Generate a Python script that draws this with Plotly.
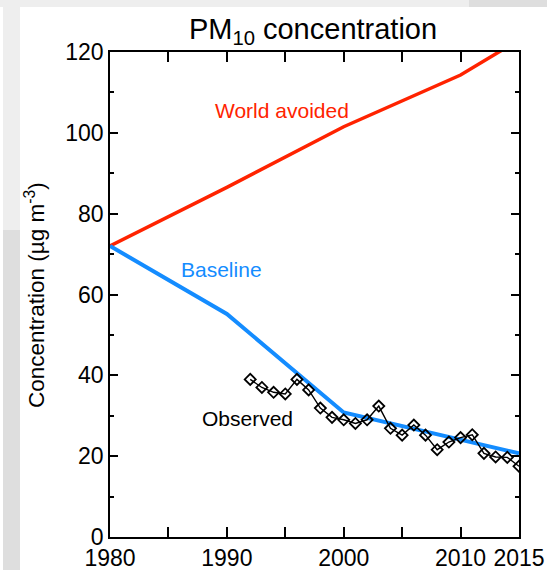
import plotly.graph_objects as go

# ---- data ----
model_years = [1980, 1990, 2000, 2010, 2015]
world_avoided = [72.0, 86.5, 101.5, 114.3, 123.0]
baseline_years = [1980, 1990, 2000, 2015]
baseline_vals = [72.0, 55.2, 30.8, 20.7]

obs_years = list(range(1992, 2016))
observed = [39.0, 37.0, 35.8, 35.4, 39.0, 36.4, 31.9, 29.6, 29.0, 28.1, 29.0, 32.4,
            26.9, 25.2, 27.7, 25.2, 21.6, 23.5, 24.6, 25.3, 20.7, 19.8, 19.7, 17.5]

x_tickvals = [1980, 1985, 1990, 1995, 2000, 2005, 2010, 2015]
x_ticktext = ["1980", "", "1990", "", "2000", "", "2010", "2015"]
y_tickvals = [0, 20, 40, 60, 80, 100, 120]
y_minorvals = [10, 30, 50, 70, 90, 110]

W, H = 547, 570
L, R, T, B = 110, 28, 52, 33
pw, ph = W - L - R, H - T - B

def px(x):
    return (x - L) / pw

def py(y):
    return (H - B - y) / ph

FONT = "Liberation Sans, Arial, Helvetica, sans-serif"

fig = go.Figure()
fig.add_trace(go.Scatter(x=model_years, y=world_avoided, mode="lines",
                         line=dict(color="rgb(255,35,0)", width=3.5), showlegend=False))
fig.add_trace(go.Scatter(x=baseline_years, y=baseline_vals, mode="lines",
                         line=dict(color="rgb(20,140,255)", width=4), showlegend=False))
fig.add_trace(go.Scatter(x=obs_years, y=observed, mode="lines+markers",
                         line=dict(color="black", width=1.4),
                         marker=dict(symbol="diamond-open", size=8.5, color="black",
                                     line=dict(width=1.8, color="black")),
                         showlegend=False))

annots = [
    dict(x=1994.7, y=105.5, text="World avoided", color="rgb(255,35,0)"),
    dict(x=1989.5, y=66.3, text="Baseline", color="rgb(20,140,255)"),
    dict(x=1991.8, y=29.2, text="Observed", color="black"),
]
for a in annots:
    fig.add_annotation(x=a["x"], y=a["y"], text=a["text"], showarrow=False,
                       xref="x", yref="y", xanchor="center", yanchor="middle",
                       font=dict(family=FONT, size=21, color=a["color"]))

# y-axis title as a rotated annotation
fig.add_annotation(x=px(35), y=py(295), xref="paper", yref="paper",
                   text="Concentration (µg m<sup>-3</sup>)", showarrow=False,
                   textangle=-90, xanchor="center", yanchor="middle",
                   font=dict(family=FONT, size=22.5, color="black"))

shapes = [
    # top strip
    dict(x0=px(0), x1=px(469), y0=py(0), y1=py(7), color="#eeeeee"),
    dict(x0=px(469), x1=px(547), y0=py(0), y1=py(7), color="#dedede"),
    # left strip
    dict(x0=px(3), x1=px(20), y0=py(7), y1=py(230), color="#eeeeee"),
    dict(x0=px(3), x1=px(20), y0=py(230), y1=py(570), color="#dedede"),
]
for s in shapes:
    fig.add_shape(type="rect", xref="paper", yref="paper", x0=s["x0"], x1=s["x1"],
                  y0=s["y0"], y1=s["y1"], fillcolor=s["color"], line=dict(width=0),
                  layer="below")

fig.update_layout(
    width=W, height=H,
    margin=dict(l=L, r=R, t=T, b=B, pad=0),
    paper_bgcolor="white", plot_bgcolor="white",
    font=dict(family=FONT, size=23, color="black"),
    title=dict(text="PM<sub>10</sub> concentration", x=313 / W, xanchor="center",
               y=1 - 29 / H, yanchor="middle", font=dict(family=FONT, size=29, color="black")),
    xaxis=dict(range=[1980, 2015], tickvals=x_tickvals, ticktext=x_ticktext,
               ticks="inside", ticklen=10, tickwidth=1.5, tickcolor="black",
               showline=True, linecolor="black", linewidth=1.6, mirror="ticks",
               showgrid=False, zeroline=False, automargin=False,
               tickfont=dict(family=FONT, size=23, color="black")),
    yaxis=dict(range=[0, 120], tickvals=y_tickvals,
               ticks="inside", ticklen=8, tickwidth=1.5, tickcolor="black",
               minor=dict(tickvals=y_minorvals, ticks="inside", ticklen=4,
                          tickwidth=1.5, tickcolor="black", showgrid=False),
               showline=True, linecolor="black", linewidth=1.6, mirror="ticks",
               showgrid=False, zeroline=False, automargin=False,
               tickfont=dict(family=FONT, size=23, color="black")),
)

fig.write_html("out.html", config={"displayModeBar": False},
               post_script="document.body.style.margin='0';")
